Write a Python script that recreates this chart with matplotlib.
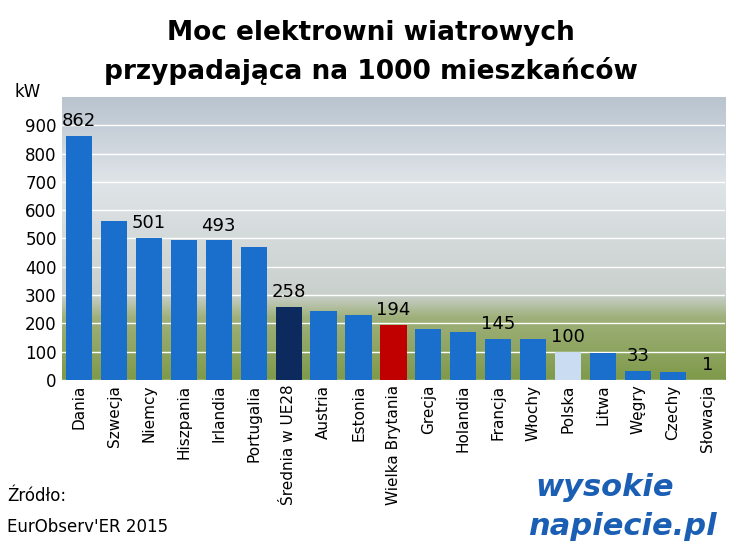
import matplotlib
matplotlib.use("Agg")
import matplotlib.pyplot as plt
import numpy as np

categories = ["Dania","Szwecja","Niemcy","Hiszpania","Irlandia","Portugalia","Średnia w UE28",
              "Austria","Estonia","Wielka Brytania","Grecja","Holandia","Francja","Włochy",
              "Polska","Litwa","Węgry","Czechy","Słowacja"]
values = [862,560,501,495,493,470,258,245,228,194,180,170,145,143,100,95,33,28,1]
labels = {0:"862",2:"501",4:"493",6:"258",9:"194",12:"145",14:"100",16:"33",18:"1"}
yticks = [0,100,200,300,400,500,600,700,800,900]

colors = ["#1a6fcc"]*len(values)
colors[6] = "#0d2a5e"
colors[9] = "#c00000"
colors[14] = "#c9dcf2"

fig = plt.figure(figsize=(7.34,5.57), dpi=100)
ax = fig.add_axes([0.084,0.318,0.904,0.508])
# background approximation of the photo
grad = np.linspace(0,1,256).reshape(-1,1)
from matplotlib.colors import LinearSegmentedColormap
cm = LinearSegmentedColormap.from_list("bg",[(0,"#7f9a4a"),(0.22,"#9fb07a"),(0.3,"#c9d0cc"),(0.7,"#dfe4e8"),(1,"#b9c4cf")])
ax.imshow(grad, aspect="auto", cmap=cm, origin="lower", extent=[-0.5,len(values)-0.5,0,1000], zorder=0)
x = np.arange(len(values))
ax.bar(x, values, width=0.75, color=colors, zorder=3)
for i,t in labels.items():
    ax.text(i, values[i]+20, t, ha="center", va="bottom", fontsize=13, zorder=4)
ax.set_xlim(-0.5,len(values)-0.5)
ax.set_ylim(0,1000)
ax.set_yticks(yticks)
ax.set_yticklabels([str(v) for v in yticks], fontsize=12)
ax.yaxis.grid(True, color="white", lw=1, zorder=1)
ax.set_xticks(x)
ax.set_xticklabels(categories, rotation=90, fontsize=11)
ax.tick_params(length=0)
for s in ax.spines.values():
    s.set_visible(False)
fig.text(0.02,0.825,"kW",fontsize=12)
fig.text(0.505,0.94,"Moc elektrowni wiatrowych",ha="center",va="center",fontsize=19,fontweight="bold")
fig.text(0.505,0.872,"przypadająca na 1000 mieszkańców",ha="center",va="center",fontsize=19,fontweight="bold")
fig.text(0.01,0.1,"Źródło:",fontsize=12)
fig.text(0.01,0.045,"EurObserv'ER 2015",fontsize=12)
fig.text(0.73,0.11,"wysokie",fontsize=22,fontweight="bold",fontstyle="italic",color="#1a5fb4")
fig.text(0.72,0.04,"napiecie.pl",fontsize=22,fontweight="bold",fontstyle="italic",color="#1a5fb4")
fig.savefig("out.png", dpi=100)
